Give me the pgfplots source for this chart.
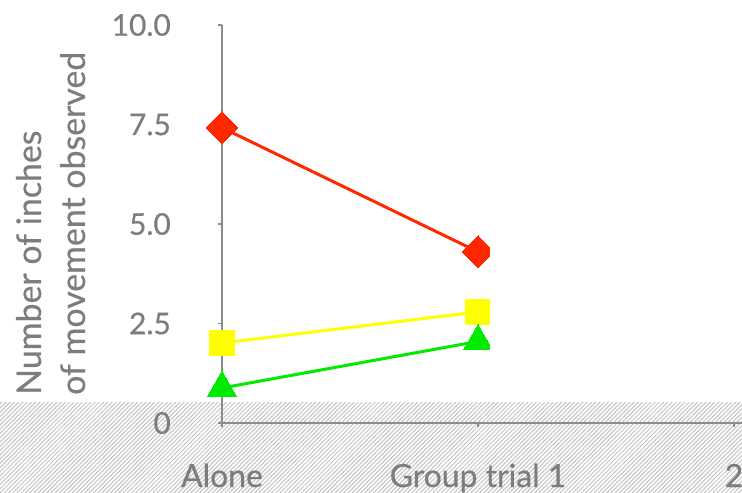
\documentclass[border=0pt]{standalone}
\usepackage{pgfplots}
\pgfplotsset{compat=1.18}
\usepackage{fontspec}
\setmainfont{Lato}[FakeBold=0.5]
\usetikzlibrary{patterns.meta}
\definecolor{txtgray}{RGB}{125,125,125}
\definecolor{axgray}{RGB}{140,140,140}
\definecolor{hatchgray}{RGB}{195,195,195}
\definecolor{myred}{RGB}{255,40,0}
\definecolor{myyellow}{RGB}{255,255,0}
\definecolor{mygreen}{RGB}{0,235,0}
\begin{document}
\begin{tikzpicture}
\useasboundingbox (-222bp,-70bp) rectangle (520bp,423bp);
\clip (-222bp,-70bp) rectangle (520bp,423bp);
% hatched band
\fill[pattern={Lines[angle=45,distance=3bp,line width=1bp]}, pattern color=hatchgray] (-222bp,-70bp) rectangle (520bp,20bp);
\begin{axis}[
  anchor=origin, at={(0,0)},
  x=256bp, y=39.8bp,
  xmin=0, xmax=2.2, ymin=0, ymax=10,
  clip=false,
  axis lines=left,
  axis line style={-, draw=axgray, line width=1.8bp},
  tick style={draw=axgray, line width=1.5bp},
  tick align=outside,
  major tick length=4bp,
  xtick={0,1,2},
  xticklabels={Alone,Group trial 1,2},
  ytick={0,2.5,5,7.5,10},
  yticklabels={0,2.5,5.0,7.5,10.0},
  tick label style={font=\fontsize{30}{32}\selectfont, text=txtgray, inner sep=0pt},
  xticklabel style={anchor=base, yshift=-60bp, font=\fontsize{32}{34}\selectfont},
  yticklabel style={anchor=east, xshift=-47bp},
]
\addplot[draw=myred, line width=3bp, mark=square*, mark size=11.3bp, mark options={rotate=45, fill=myred, draw=myred, line width=0pt}] coordinates {(0,7.42) (1,4.30)};
\addplot[draw=myyellow, line width=3bp, mark=square*, mark size=12.5bp, mark options={fill=myyellow, draw=myyellow, line width=0pt}] coordinates {(0,2.01) (1,2.79)};
\addplot[draw=mygreen, line width=3bp, mark=triangle*, mark size=17bp, mark options={fill=mygreen, draw=mygreen, line width=0pt}] coordinates {(0,0.88) (1,2.05)};
\end{axis}
% markers at the second category are cut off on the right in the reference
\fill[white] (268bp,21bp) rectangle (521bp,424bp);
% y label, two lines
\node[rotate=90, anchor=base west, inner sep=0pt, text=txtgray, font=\fontsize{34}{36}\selectfont] at (-181bp,28bp) {Number of inches};
\node[rotate=90, anchor=base west, inner sep=0pt, text=txtgray, font=\fontsize{34}{36}\selectfont] at (-137bp,28bp) {of movement observed};
\end{tikzpicture}
\end{document}
